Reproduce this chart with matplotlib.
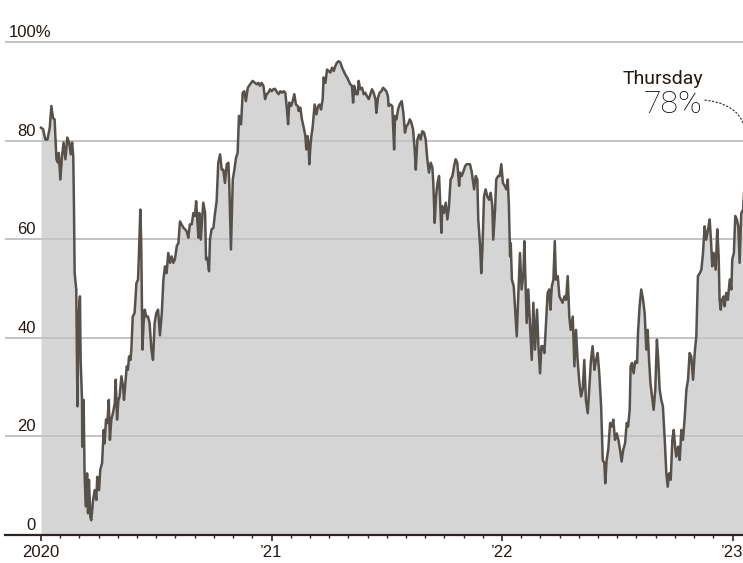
import numpy as np
import matplotlib.pyplot as plt
from matplotlib import font_manager as fm

label_family = ['Liberation Sans', 'DejaVu Sans']
lab_size = 12

# positions in decimal years, share in percent, one pair of lists per year
t_2020 = [2020.000, 2020.009, 2020.019, 2020.028, 2020.038, 2020.045, 2020.052, 2020.059, 2020.067, 2020.074,
          2020.077, 2020.084, 2020.091, 2020.098, 2020.106, 2020.114, 2020.122, 2020.129, 2020.135, 2020.140,
          2020.143, 2020.146, 2020.153, 2020.158, 2020.163, 2020.169, 2020.172, 2020.178, 2020.179, 2020.185,
          2020.189, 2020.194, 2020.200, 2020.204, 2020.208, 2020.214, 2020.218, 2020.226, 2020.233, 2020.240,
          2020.244, 2020.252, 2020.257, 2020.265, 2020.272, 2020.276, 2020.282, 2020.288, 2020.294, 2020.299,
          2020.305, 2020.312, 2020.320, 2020.324, 2020.330, 2020.336, 2020.341, 2020.349, 2020.356, 2020.360,
          2020.367, 2020.372, 2020.377, 2020.382, 2020.388, 2020.392, 2020.398, 2020.406, 2020.414, 2020.421,
          2020.425, 2020.431, 2020.435, 2020.440, 2020.445, 2020.450, 2020.457, 2020.464, 2020.471, 2020.479,
          2020.486, 2020.493, 2020.500, 2020.508, 2020.516,
          2020.524, 2020.531, 2020.538, 2020.545, 2020.552, 2020.560, 2020.567, 2020.574, 2020.581, 2020.589,
          2020.596, 2020.603, 2020.610, 2020.618, 2020.625, 2020.632, 2020.639, 2020.646, 2020.654, 2020.661,
          2020.668, 2020.673, 2020.678, 2020.683, 2020.687, 2020.693, 2020.697, 2020.704, 2020.712, 2020.716,
          2020.722, 2020.729, 2020.733, 2020.740, 2020.748, 2020.755, 2020.762, 2020.769, 2020.777, 2020.784,
          2020.791, 2020.798, 2020.806, 2020.813, 2020.817, 2020.824, 2020.832, 2020.839, 2020.846, 2020.853,
          2020.859, 2020.868, 2020.875, 2020.882, 2020.889, 2020.897, 2020.907, 2020.918, 2020.928, 2020.936,
          2020.943, 2020.950, 2020.957, 2020.965, 2020.972, 2020.979, 2020.986, 2020.994]
v_2020 = [82.6, 82.3, 80.2, 80.2, 82.6, 87.0, 84.6, 84.3, 76.2, 75.5,
          77.5, 72.1, 76.8, 79.6, 76.2, 80.6, 79.6, 77.2, 79.6, 76.8,
          66.7, 53.1, 49.8, 26.1, 44.3, 48.4, 35.5, 27.4, 17.9, 27.4,
          12.5, 5.8, 12.5, 4.4, 11.2, 3.7, 3.0, 7.1, 9.1, 7.1,
          11.8, 9.1, 13.2, 14.6, 21.3, 18.6, 23.4, 22.7, 27.4, 19.3,
          23.4, 24.7, 26.7, 31.5, 23.4, 27.4, 28.1, 32.2, 30.1, 27.4,
          31.5, 34.2, 33.5, 36.2, 35.5, 37.6, 44.3, 45.0, 51.1, 51.8,
          57.2, 66.0, 58.6, 37.6, 43.0, 45.7, 44.3, 44.3, 43.0, 37.6,
          35.5, 43.0, 45.0, 45.7, 40.5,
          45.0, 51.8, 54.5, 53.1, 57.2, 55.2, 56.5, 55.2, 55.9, 58.6,
          59.2, 63.6, 63.0, 62.3, 62.0, 61.6, 60.3, 63.0, 63.0, 65.3,
          64.7, 67.7, 64.0, 60.3, 65.3, 59.9, 62.6, 67.4, 65.3, 55.9,
          56.2, 53.5, 59.9, 62.0, 62.3, 65.3, 67.7, 75.5, 77.2, 74.1,
          74.1, 71.4, 75.2, 75.5, 70.8, 57.9, 72.1, 74.1, 76.5, 77.5,
          85.0, 83.3, 89.7, 90.0, 88.0, 90.7, 91.4, 92.1, 91.7, 91.4,
          91.7, 91.1, 91.7, 91.1, 88.4, 89.4, 89.7, 90.4]

t_2021 = [2021.001, 2021.008, 2021.015, 2021.024, 2021.031, 2021.038, 2021.046, 2021.053, 2021.060, 2021.067,
          2021.072, 2021.077, 2021.085, 2021.092, 2021.099, 2021.106, 2021.114, 2021.118, 2021.125, 2021.132,
          2021.140, 2021.147, 2021.151, 2021.157, 2021.161, 2021.164, 2021.169, 2021.173, 2021.179, 2021.187,
          2021.195, 2021.202, 2021.209, 2021.215, 2021.222, 2021.226, 2021.234, 2021.241, 2021.248, 2021.255,
          2021.263, 2021.270, 2021.277, 2021.284, 2021.291, 2021.299, 2021.306, 2021.313, 2021.320, 2021.328,
          2021.335, 2021.342, 2021.349, 2021.354, 2021.359, 2021.367, 2021.374, 2021.378, 2021.385, 2021.393,
          2021.400, 2021.407, 2021.414, 2021.422, 2021.429, 2021.436, 2021.443, 2021.451, 2021.455, 2021.462,
          2021.469, 2021.477, 2021.484, 2021.491, 2021.498, 2021.505, 2021.508, 2021.516, 2021.524, 2021.532,
          2021.536, 2021.542, 2021.549, 2021.556, 2021.565, 2021.572, 2021.579, 2021.585, 2021.592, 2021.600,
          2021.607, 2021.614, 2021.621, 2021.626, 2021.633, 2021.640, 2021.647, 2021.654, 2021.662, 2021.669,
          2021.676, 2021.683, 2021.691, 2021.698, 2021.702, 2021.708, 2021.714, 2021.720, 2021.727, 2021.731,
          2021.737, 2021.741, 2021.748, 2021.756, 2021.763, 2021.770, 2021.777, 2021.785, 2021.792, 2021.799,
          2021.806, 2021.814, 2021.818, 2021.825, 2021.831, 2021.840, 2021.847, 2021.854, 2021.861, 2021.868,
          2021.879, 2021.886, 2021.893, 2021.897, 2021.905, 2021.910, 2021.915, 2021.922, 2021.929, 2021.936,
          2021.944, 2021.951, 2021.958, 2021.962, 2021.970, 2021.975, 2021.983, 2021.990, 2021.997]
v_2021 = [90.0, 90.4, 90.5, 89.8, 89.4, 90.0, 89.7, 90.0, 89.7, 86.3,
          83.3, 87.7, 87.0, 88.0, 89.4, 87.3, 87.0, 86.0, 86.7, 84.3,
          82.6, 80.9, 78.2, 80.9, 78.9, 75.2, 78.9, 80.9, 82.9, 87.3,
          85.3, 87.0, 87.3, 86.3, 88.4, 92.8, 91.7, 94.4, 94.1, 93.8,
          94.8, 94.1, 95.1, 95.8, 96.1, 95.8, 94.8, 94.1, 93.4, 92.8,
          92.1, 91.4, 91.1, 87.7, 91.1, 89.4, 89.4, 92.1, 90.4, 90.7,
          89.4, 89.7, 89.0, 88.4, 89.4, 90.4, 89.7, 88.4, 85.6, 88.7,
          89.7, 90.0, 90.7, 90.4, 90.0, 89.0, 87.0, 87.3, 87.0, 78.2,
          85.0, 84.3, 86.3, 87.3, 88.0, 85.6, 81.6, 82.9, 83.3, 84.3,
          83.6, 82.3, 78.2, 74.1, 80.2, 81.2, 80.2, 81.9, 81.6, 80.2,
          76.2, 73.5, 75.5, 74.5, 71.4, 63.3, 68.7, 71.4, 72.8, 68.4,
          61.3, 66.7, 65.3, 67.4, 64.0, 66.7, 72.1, 72.8, 74.8, 76.2,
          75.5, 70.8, 73.5, 72.8, 73.5, 74.8, 75.2, 75.2, 75.2, 73.8,
          70.1, 72.8, 72.1, 64.0, 58.6, 53.1, 57.9, 68.7, 70.1, 68.7,
          68.0, 69.4, 66.7, 59.9, 66.0, 72.1, 72.8, 72.8, 75.2]

t_2022 = [2022.004, 2022.012, 2022.019, 2022.025, 2022.030, 2022.035, 2022.038, 2022.043, 2022.051, 2022.056,
          2022.064, 2022.071, 2022.078, 2022.085, 2022.093, 2022.097, 2022.101, 2022.107, 2022.114, 2022.122,
          2022.129, 2022.136, 2022.143, 2022.152, 2022.158, 2022.165, 2022.171, 2022.177, 2022.184, 2022.191,
          2022.198, 2022.205, 2022.210, 2022.216, 2022.223, 2022.229, 2022.234, 2022.242, 2022.249, 2022.256,
          2022.263, 2022.271, 2022.278, 2022.285, 2022.292, 2022.298, 2022.307, 2022.314, 2022.321, 2022.328,
          2022.336, 2022.343, 2022.350, 2022.357, 2022.364, 2022.372, 2022.379, 2022.386, 2022.393, 2022.401,
          2022.408, 2022.415, 2022.422, 2022.430, 2022.437, 2022.444, 2022.448, 2022.454, 2022.461, 2022.469,
          2022.476, 2022.483, 2022.490, 2022.498, 2022.505, 2022.512, 2022.519, 2022.526, 2022.534, 2022.541,
          2022.547, 2022.554, 2022.558, 2022.564, 2022.571, 2022.578, 2022.586, 2022.590, 2022.597, 2022.604,
          2022.612, 2022.619, 2022.626, 2022.632, 2022.638, 2022.644, 2022.651, 2022.658, 2022.665, 2022.672,
          2022.678, 2022.684, 2022.691, 2022.698, 2022.706, 2022.713, 2022.719, 2022.725, 2022.732, 2022.739,
          2022.745, 2022.751, 2022.756, 2022.764, 2022.771, 2022.778, 2022.785, 2022.792, 2022.800, 2022.807,
          2022.814, 2022.821, 2022.829, 2022.836, 2022.843, 2022.850, 2022.858, 2022.865, 2022.872, 2022.879,
          2022.886, 2022.894, 2022.901, 2022.908, 2022.912, 2022.918, 2022.927, 2022.934, 2022.940, 2022.944,
          2022.949, 2022.954, 2022.962, 2022.966, 2022.973, 2022.980, 2022.988, 2022.995, 2022.999]
v_2022 = [71.4, 70.8, 70.1, 72.1, 66.7, 56.5, 59.2, 51.8, 50.4, 46.4,
          40.3, 49.1, 57.2, 49.8, 53.1, 59.6, 53.1, 43.0, 49.8, 42.3,
          35.5, 47.1, 37.6, 45.7, 38.3, 32.8, 38.3, 38.3, 36.9, 43.0,
          49.1, 49.8, 45.7, 50.4, 51.8, 59.6, 51.8, 52.5, 48.4, 47.7,
          47.1, 48.4, 47.7, 52.5, 44.3, 41.6, 44.3, 34.2, 41.6, 35.5,
          30.8, 28.1, 29.5, 35.5, 27.4, 24.7, 30.1, 35.5, 38.3, 33.5,
          35.5, 36.9, 32.8, 26.1, 15.2, 14.6, 10.5, 15.2, 17.3, 22.7,
          22.0, 23.4, 19.3, 20.6, 19.3, 17.3, 14.9, 17.3, 18.6, 22.7,
          22.0, 25.4, 34.2, 34.9, 32.8, 35.2, 34.9, 41.0, 46.4, 49.8,
          47.7, 45.0, 37.6, 41.6, 35.5, 30.8, 28.1, 25.4, 29.5, 39.6,
          35.5, 29.5, 27.4, 26.1, 19.3, 12.5, 9.8, 12.5, 11.2, 19.3,
          21.3, 17.9, 15.9, 17.9, 15.2, 21.3, 19.3, 23.4, 29.5, 31.5,
          36.9, 36.2, 31.5, 36.9, 40.3, 52.5, 53.1, 53.8, 57.2, 62.6,
          59.9, 62.0, 64.0, 58.6, 54.5, 57.2, 53.8, 62.0, 56.5, 47.7,
          45.7, 47.7, 48.4, 46.4, 49.1, 47.7, 51.8, 49.8, 55.9]

t_2023 = [2023.006, 2023.012, 2023.019, 2023.025, 2023.031, 2023.038, 2023.046, 2023.060]
v_2023 = [57.2, 64.7, 64.0, 62.6, 55.2, 65.3, 66.0, 78.0]

year_ticks = [2020, 2021, 2022, 2023]
year_labels = ['2020', '\u201921', '\u201922', '\u201923']
grid_levels = [0, 20, 40, 60, 80, 100]
grid_labels = ['0', '20', '40', '60', '80', '100%']
latest_label = 'Thursday'
latest_value = v_2023[-1]

years = np.array(t_2020 + t_2021 + t_2022 + t_2023)
share = np.array(v_2020 + v_2021 + v_2022 + v_2023)

ink = '#241810'
px_per_year = 230.5
fig = plt.figure(figsize=(7.43, 5.63), dpi=100)
ax = fig.add_axes([5 / 743, 28 / 563, 738 / 743, 498 / 563])
ax.set_xlim(2020 - 36 / px_per_year, 2020 + 702 / px_per_year)
ax.set_ylim(0, 101)

ax.fill_between(years, 0, share, color='#d5d5d5', lw=0, zorder=1)
for g in grid_levels[1:]:
    ax.axhline(g, color='#c3c3c3', lw=1.4, zorder=2)
ax.plot(years, share, color='#57514c', lw=1.8, zorder=3, solid_joinstyle='round')

for s in ['top', 'right', 'left']:
    ax.spines[s].set_visible(False)
ax.spines['bottom'].set_color('#2b2420')
ax.spines['bottom'].set_linewidth(1.6)
ax.spines['bottom'].set_zorder(5)

ax.set_yticks([])
ax.set_xticks(year_ticks)
ax.set_xticklabels(year_labels, family=label_family)
ax.set_xticks([y + m / 12 for y in year_ticks for m in range(1, 12)
               if y + m / 12 < 2023.05], minor=True)
ax.tick_params(axis='x', which='major', length=4, width=1.2, color='#2b2420',
               labelsize=lab_size, labelcolor=ink, pad=3)
ax.tick_params(axis='x', which='minor', length=2.5, width=1.0, color='#2b2420')

# y labels sit on their gridlines; numbers right-aligned, the % sign hangs past
renderer = fig.canvas.get_renderer()
fp = fm.FontProperties(family=label_family, size=lab_size)
x_right = 2020 - 5 / px_per_year
for g, lab in zip(grid_levels, grid_labels):
    num = lab.rstrip('%')
    w_num = renderer.get_text_width_height_descent(num, fp, ismath=False)[0]
    ax.text(x_right - w_num / px_per_year, g + 0.4, lab, ha='left', va='bottom',
            fontproperties=fp, color=ink)

# latest reading, drawn just past the right edge
ax.text(2022.872, 90.6, latest_label, ha='right', va='bottom', fontsize=14,
        color=ink, family=['Roboto', 'DejaVu Sans'])
ax.text(2022.872, 87.4, f'{latest_value:.0f}%', ha='right', va='center', fontsize=23,
        color='#0f0905', family=['Roboto', 'DejaVu Sans'], fontweight='light')
ax.annotate('', xy=(years[-1], latest_value), xytext=(2022.881, 88.2),
            annotation_clip=False,
            arrowprops=dict(arrowstyle='-', linestyle=(0, (1, 2)), lw=0.9, color='#333333',
                            connectionstyle='arc3,rad=-0.5', shrinkA=0, shrinkB=0))

fig.savefig('out.png', dpi=100)
